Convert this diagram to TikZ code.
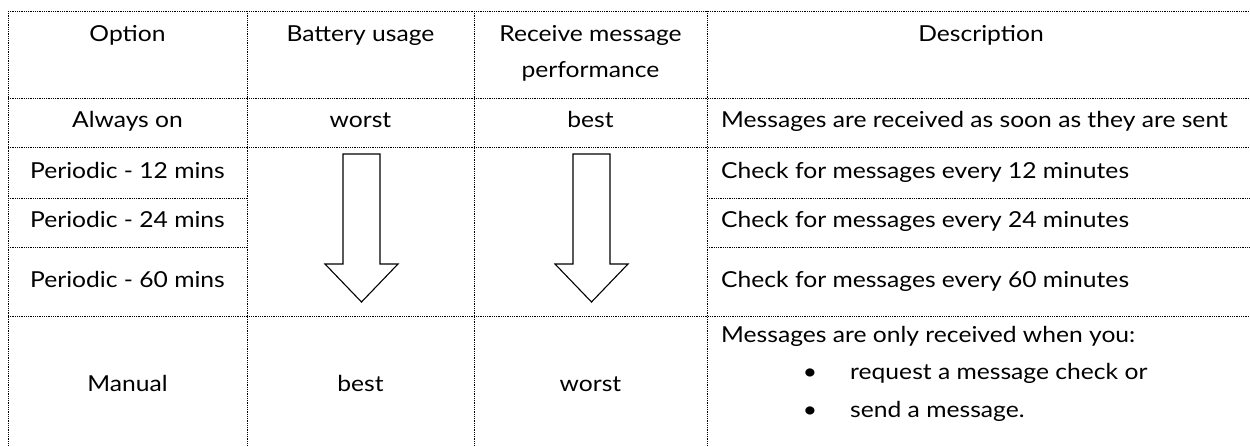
\documentclass[tikz,border=0pt]{standalone}
\usepackage{fontspec}
\setmainfont{Lato}[FakeStretch=1.12]
\usetikzlibrary{positioning}

\begin{document}
\begin{tikzpicture}[
    % GLOBAL CFG
    x=1pt, y=-1pt,
    font=\fontsize{22}{36}\selectfont,
    % Styles
    grid/.style={
        line width=.9pt,
        dash pattern=on .9pt off .9pt,
    },
    cell/.style={
        anchor=base,
        inner sep=0pt,
    },
    desc/.style={
        anchor=base west,
        inner sep=0pt,
    },
    downarrow/.style={
        draw,
        line width=1.1pt,
        line join=miter,
    },
]
\useasboundingbox (0,0) rectangle (1250,447);

% Draw the grid
    \foreach \gx in {8,247,474,707}
        \draw [grid] (\gx,11) -- (\gx,447);
    \foreach \gy in {11,98,147,316}
        \draw [grid] (8,\gy) -- (1250,\gy);
    \foreach \gy in {198,247}{
        \draw [grid] (8,\gy) -- (247,\gy);
        \draw [grid] (707,\gy) -- (1250,\gy);
    }

% Header row
    \node [cell] (hoption) at (127.5,41) {Option};
    \node [cell] (hbattery) at (360.5,41) {Battery usage};
    \node [anchor=north, inner sep=0pt, align=center] (hreceive) at (590.5,25) {Receive message\\performance};
    \node [cell] (hdesc) at (981,41) {Description};

% Always on
    \node [cell] (alwayson) at (127.5,127) {Always on};
    \node [cell] (alwaysbat) at (360.5,127) {worst};
    \node [cell] (alwaysrec) at (590.5,127) {best};
    \node [desc] (alwaysdesc) at (721,127) {Messages are received as soon as they are sent};

% Periodic rows
    \foreach \mins/\by in {12/178,24/227,60/287}{
        \node [cell] (per\mins) at (127.5,\by) {Periodic - \mins\ mins};
        \node [desc] (perdesc\mins) at (721,\by) {Check for messages every \mins\ minutes};
    }

    % Arrows from worst/best down to best/worst
    \foreach \ax in {361.5,591.5}
        \draw [downarrow] (\ax-18.5,154) -- (\ax+18.5,154) -- (\ax+18.5,264) -- (\ax+36.5,264)
            -- (\ax,302) -- (\ax-36.5,264) -- (\ax-18.5,264) -- cycle;

% Manual
    \node [cell] (manual) at (127.5,391) {Manual};
    \node [cell] (manualbat) at (360.5,391) {best};
    \node [cell] (manualrec) at (590.5,391) {worst};
    \node [desc] (manualdesc) at (721,342) {Messages are only received when you:};
    \node [cell] (dot1) at (810,379) {\textbullet};
    \node [desc] (item1) at (850,379) {request a message check or};
    \node [cell] (dot2) at (810,417) {\textbullet};
    \node [desc] (item2) at (850,417) {send a message.};

\end{tikzpicture}
\end{document}
